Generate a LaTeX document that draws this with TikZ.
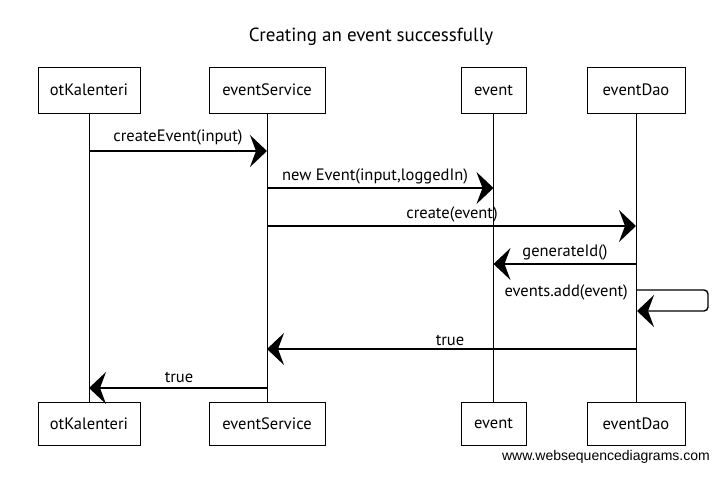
\documentclass[tikz,border=0pt]{standalone}
\usepackage{fontspec}
\setmainfont{PT Sans}
\newfontfamily\footfont{Liberation Sans}
\usetikzlibrary{arrows.meta}
\begin{document}
\begin{tikzpicture}[x=1pt,y=-1pt,
  actor/.style={draw, line width=1pt, fill=white, minimum height=46pt, font=\fontsize{16.5}{18}\selectfont, inner sep=0pt},
  life/.style={draw, line width=0.8pt},
  msg/.style={draw, line width=1.4pt, -{Stealth[length=17pt,width=32pt,inset=6pt]}},
  lbl/.style={font=\fontsize{16.5}{18}\selectfont, inner sep=0pt}]
\useasboundingbox[fill=white] (0,0) rectangle (723,490);
\node[font=\fontsize{19}{21}\selectfont] (title) at (371,37) {Creating an event successfully};
% top actors
\node[actor, minimum width=102pt] (kT) at (89,90) {otKalenteri};
\node[actor, minimum width=116pt] (sT) at (267,90) {eventService};
\node[actor, minimum width=65pt] (eT) at (493.5,90) {event};
\node[actor, minimum width=98pt] (dT) at (636,90) {eventDao};
% bottom actors
\node[actor, minimum width=102pt, minimum height=43pt] (kB) at (89,423.5) {otKalenteri};
\node[actor, minimum width=116pt, minimum height=43pt] (sB) at (267,423.5) {eventService};
\node[actor, minimum width=65pt, minimum height=43pt] (eB) at (493.5,423.5) {event};
\node[actor, minimum width=98pt, minimum height=43pt] (dB) at (636,423.5) {eventDao};
% lifelines
\draw[life] (kT.south) -- (kB.north);
\draw[life] (sT.south) -- (sB.north);
\draw[life] (eT.south) -- (eB.north);
\draw[life] (dT.south) -- (dB.north);
% message anchor points
\coordinate (k1) at (89,151);   \coordinate (s1) at (267,151);
\coordinate (s2) at (267,188);  \coordinate (e2) at (493.5,188);
\coordinate (s3) at (267,226);  \coordinate (d3) at (636,226);
\coordinate (d4) at (636,264);  \coordinate (e4) at (493.5,264);
\coordinate (d5) at (636,290);  \coordinate (r5) at (708,290);
\coordinate (r6) at (708,311);  \coordinate (d6) at (637,311);
\coordinate (d7) at (636,349);  \coordinate (s7) at (267,349);
\coordinate (s8) at (267,388);  \coordinate (k8) at (89,388);
% messages
\draw[msg] (k1) -- (s1);
\node[lbl] (l1) at (178,137) {createEvent(input)};
\draw[msg] (s2) -- (e2);
\node[lbl] (l2) at (375,176) {new Event(input,loggedIn)};
\draw[msg] (s3) -- (d3);
\node[lbl] (l3) at (452,214) {create(event)};
\draw[msg] (d4) -- (e4);
\node[lbl] (l4) at (565,252) {generateId()};
\draw[msg, rounded corners=4pt] (d5) -- (r5) -- (r6) -- (d6);
\node[lbl, anchor=east] (l5) at (628,292) {events.add(event)};
\draw[msg] (d7) -- (s7);
\node[lbl] (l6) at (450,340) {true};
\draw[msg] (s8) -- (k8);
\node[lbl] (l7) at (179,377) {true};
\node[font=\footfont\fontsize{14}{16}\selectfont, anchor=east, inner sep=0pt] (foot) at (710,457) {www.websequencediagrams.com};
\end{tikzpicture}
\end{document}
